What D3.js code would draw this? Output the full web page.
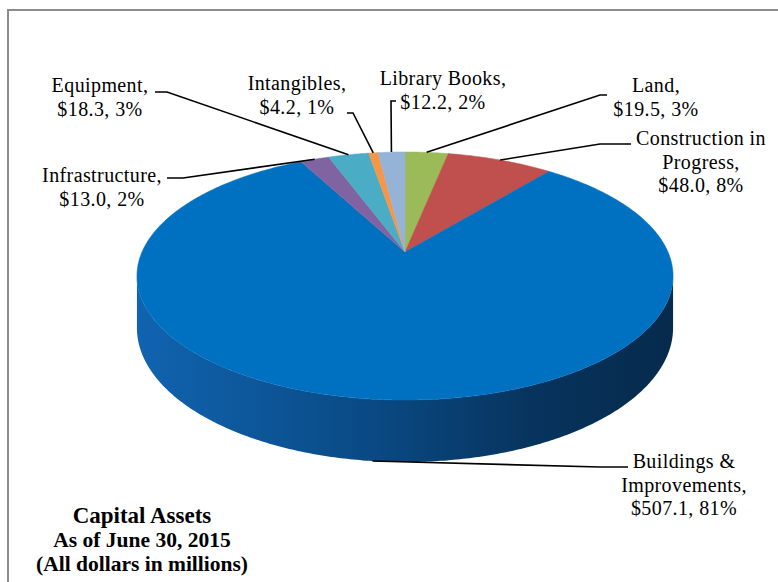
<!DOCTYPE html>
<html>
<head>
<meta charset="utf-8">
<script src="https://cdn.jsdelivr.net/npm/d3@7"></script>
<style>
  body { margin: 0; background: #fff; }
  text { font-family: "Liberation Serif", "Times New Roman", serif; fill: #000; }
</style>
</head>
<body>
<script>
// slices, clockwise from 12 o'clock (same order as the workbook)
var categories = ["Land", "Construction in Progress", "Buildings & Improvements",
                  "Infrastructure", "Equipment", "Intangibles", "Library Books"];
var values = [19.5, 48.0, 507.1, 13.0, 18.3, 4.2, 12.2];
var nameLines = [["Land,"], ["Construction in", "Progress,"], ["Buildings &", "Improvements,"],
                 ["Infrastructure,"], ["Equipment,"], ["Intangibles,"], ["Library Books,"]];
var colors = ["#9BBB59", "#C0504D", "#0070C0", "#8064A2", "#4BACC6", "#F79646", "#95B3D7"];

var W = 778, H = 582;
var svg = d3.select("body").append("svg").attr("width", W).attr("height", H);

// frame (only top and left edges show)
svg.append("path")
  .attr("d", "M8,582 L8,10 L778,10")
  .attr("fill", "none").attr("stroke", "#8c8c8c").attr("stroke-width", 2);

// 3d pie projection: tilted disc with a little perspective
var cx = 405, cy = 252, A = 263, B = 119.4, K = 0.1935, depth = 50;
function proj(a, r, h) {
  var u = r * Math.sin(a), v = -r * Math.cos(a);
  var s = 1 / (1 - K * v);
  return [cx + A * u * s, cy + B * v * s + (h || 0) * depth * s];
}

var total = d3.sum(values);
var pct = d3.format(".0%");
var pie = d3.pie().sort(null).startAngle(0).endAngle(2 * Math.PI);
var arcs = pie(values);
var line = d3.line();

function arcPts(a0, a1, h) {
  var n = Math.max(2, Math.ceil((a1 - a0) / 0.01));
  return d3.range(n + 1).map(function(i) { return proj(a0 + (a1 - a0) * i / n, 1, h); });
}

var defs = svg.append("defs");
var grad = defs.append("linearGradient").attr("id", "side")
  .attr("gradientUnits", "userSpaceOnUse")
  .attr("x1", cx - 270).attr("x2", cx + 270).attr("y1", 0).attr("y2", 0);
grad.append("stop").attr("offset", "0%").attr("stop-color", "#1064B0");
grad.append("stop").attr("offset", "40%").attr("stop-color", "#0A4C88");
grad.append("stop").attr("offset", "75%").attr("stop-color", "#07335C");
grad.append("stop").attr("offset", "100%").attr("stop-color", "#062A4C");

// visible front wall
var f0 = Math.acos(-K), f1 = 2 * Math.PI - Math.acos(-K);
arcs.forEach(function(d, i) {
  var a0 = Math.max(d.startAngle, f0), a1 = Math.min(d.endAngle, f1);
  if (a1 <= a0) return;
  var pts = arcPts(a0, a1, 0).concat(arcPts(a0, a1, 1).reverse());
  svg.append("path")
    .attr("d", line(pts) + "Z")
    .attr("fill", i == 2 ? "url(#side)" : d3.color(colors[i]).darker(1.2));
});

// top face
svg.selectAll(".slice")
  .data(arcs)
  .enter().append("path")
    .attr("class", "slice")
    .attr("d", function(d) { return line([[cx, cy]].concat(arcPts(d.startAngle, d.endAngle, 0))) + "Z"; })
    .attr("fill", function(d, i) { return colors[i]; })
    .attr("stroke", function(d, i) { return colors[i]; })
    .attr("stroke-width", 0.5);

// labels: text anchor (centre x, first baseline) and leader knee / end
var labelLayout = [
  { x: 656, y: 92,  knee: [600, 95],  end: [607, 95] },
  { x: 701, y: 145, knee: [600, 144], end: [631, 144] },
  { x: 684, y: 468, knee: [600, 467], end: [628, 467], bottom: true },
  { x: 102, y: 182, knee: [183, 178], end: [167, 178] },
  { x: 100, y: 92,  knee: [167, 92],  end: [155, 92] },
  { x: 297, y: 90,  knee: [353, 113], end: [347, 113] },
  { x: 443, y: 85,  knee: [391, 101], end: [396, 101] }
];

arcs.forEach(function(d, i) {
  var L = labelLayout[i];
  var mid = (d.startAngle + d.endAngle) / 2;
  var p = proj(mid, 1, L.bottom ? 1 : 0);
  svg.append("path")
    .attr("d", line([p, L.knee, L.end]))
    .attr("fill", "none").attr("stroke", "#000").attr("stroke-width", 1.6);

  var lines = nameLines[i].concat(["$" + values[i].toFixed(1) + ", " + pct(values[i] / total)]);
  var t = svg.append("text")
    .attr("text-anchor", "middle")
    .attr("font-size", 20)
    .attr("letter-spacing", 0.4);
  lines.forEach(function(s, j) {
    t.append("tspan").attr("x", L.x).attr("y", L.y + j * 23.5).text(s);
  });
});

// title block
var titleLines = ["Capital Assets", "As of June 30, 2015", "(All dollars in millions)"];
svg.selectAll(".title")
  .data(titleLines)
  .enter().append("text")
    .attr("class", "title")
    .attr("x", 142)
    .attr("y", function(d, i) { return 523 + i * 24; })
    .attr("text-anchor", "middle")
    .attr("font-weight", "bold")
    .attr("font-size", function(d, i) { return i == 0 ? 23 : 21.5; })
    .text(function(d) { return d; });
</script>
</body>
</html>
